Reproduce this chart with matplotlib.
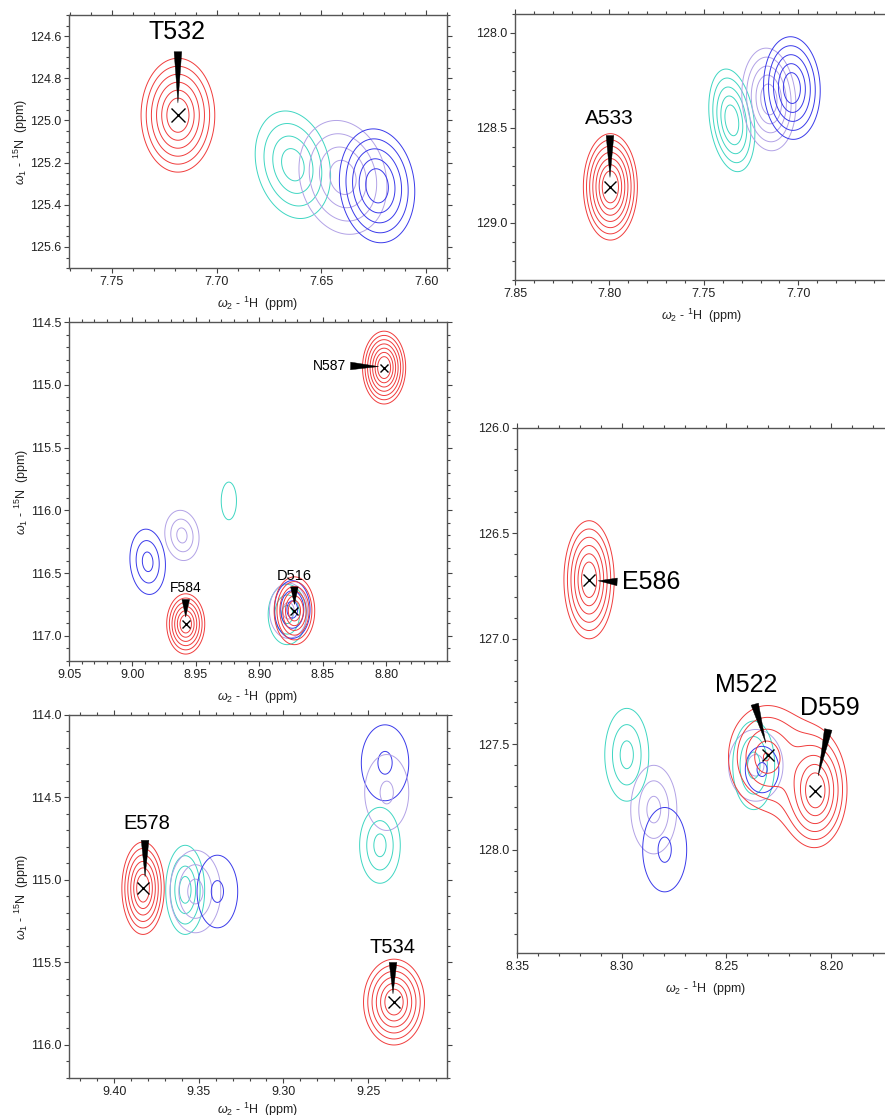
import numpy as np
import matplotlib
matplotlib.use('Agg')
import matplotlib.pyplot as plt
from matplotlib.ticker import MultipleLocator, FormatStrFormatter

plt.rcParams['font.family'] = ['Liberation Sans', 'DejaVu Sans']
plt.rcParams['mathtext.fontset'] = 'custom'
plt.rcParams['mathtext.rm'] = 'Liberation Sans'
plt.rcParams['mathtext.it'] = 'Liberation Sans:italic'

colors = {'red': '#f03c3c', 'cyan': '#3fd6c2', 'lilac': '#b2a2e6', 'blue': '#3a3aea'}

# peaks: (spectrum, 1H, 15N, half-width H, half-width N, tilt, number of contours)
t532_peaks = [
    ('red', 7.7185, 124.975, 0.0176, 0.27, 0.0, 6),
    ('cyan', 7.6636, 125.21, 0.018, 0.255, 0.2, 4),
    ('lilac', 7.6397, 125.27, 0.021, 0.27, 0.15, 4),
    ('blue', 7.6234, 125.31, 0.018, 0.27, 0.1, 5),
]
a533_peaks = [
    ('red', 7.7995, 128.81, 0.0143, 0.28, 0.0, 7),
    ('cyan', 7.7352, 128.46, 0.0122, 0.27, 0.25, 5),
    ('lilac', 7.7156, 128.35, 0.0143, 0.27, 0.1, 5),
    ('blue', 7.7034, 128.29, 0.015, 0.27, 0.05, 5),
]
mid_peaks = [
    ('red', 8.8016, 114.863, 0.017, 0.29, 0.0, 7),
    ('red', 8.958, 116.905, 0.015, 0.24, 0.0, 6),
    ('blue', 8.988, 116.41, 0.014, 0.26, 0.1, 3),
    ('lilac', 8.961, 116.20, 0.0135, 0.20, 0.1, 3),
    ('cyan', 8.924, 115.925, 0.006, 0.15, 0.0, 1),
    ('cyan', 8.878, 116.83, 0.015, 0.24, 0.0, 3),
    ('lilac', 8.877, 116.80, 0.015, 0.22, 0.0, 2),
    ('blue', 8.874, 116.79, 0.014, 0.23, 0.0, 3),
    ('red', 8.8723, 116.80, 0.016, 0.27, 0.0, 6),
]
low_peaks = [
    ('red', 9.3829, 115.05, 0.0125, 0.28, 0.0, 6),
    ('cyan', 9.358, 115.06, 0.0115, 0.27, 0.0, 4),
    ('lilac', 9.352, 115.07, 0.015, 0.25, 0.0, 3),
    ('blue', 9.339, 115.07, 0.012, 0.22, 0.0, 2),
    ('blue', 9.240, 114.29, 0.014, 0.23, 0.0, 2),
    ('lilac', 9.239, 114.47, 0.013, 0.23, 0.0, 2),
    ('cyan', 9.243, 114.79, 0.012, 0.23, 0.0, 3),
    ('red', 9.2347, 115.74, 0.018, 0.26, 0.0, 6),
]
tall_peaks = [
    ('red', 8.3156, 126.72, 0.012, 0.28, 0.0, 6),
    ('cyan', 8.2976, 127.55, 0.0105, 0.22, 0.0, 3),
    ('lilac', 8.2847, 127.81, 0.011, 0.21, 0.0, 3),
    ('blue', 8.2795, 128.00, 0.0105, 0.20, 0.0, 2),
    ('lilac', 8.2360, 127.60, 0.0130, 0.17, 0.0, 2),
    ('cyan', 8.2370, 127.60, 0.0100, 0.21, 0.0, 3),
    ('blue', 8.2330, 127.62, 0.0080, 0.11, 0.0, 2),
]
# M522 and D559 share one red contour set: (1H, 15N, half-width H, half-width N, top-level offset)
m522_d559_red = [
    (8.2310, 127.56, 0.0180, 0.24, 0.40),
    (8.2075, 127.72, 0.0145, 0.26, 0.0),
]

# labels: (text, text H, text N, wedge base H, base N, tip H, tip N, font size)
t532_labels = [('T532', 7.719, 124.58, 7.7185, 124.674, 7.7185, 124.917, 18)]
a533_labels = [('A533', 7.8003, 128.45, 7.7997, 128.54, 7.7997, 128.76, 15)]
mid_labels = [
    ('N587', 8.845, 114.85, 8.828, 114.85, 8.806, 114.855, 10),
    ('F584', 8.958, 116.62, 8.958, 116.71, 8.958, 116.85, 10),
    ('D516', 8.8723, 116.52, 8.8723, 116.61, 8.8723, 116.75, 10.5),
]
low_labels = [
    ('E578', 9.3805, 114.66, 9.3817, 114.76, 9.3817, 114.98, 14.5),
    ('T534', 9.2353, 115.41, 9.2353, 115.50, 9.2353, 115.69, 14.5),
]
tall_labels = [
    ('E586', 8.286, 126.73, 8.3022, 126.73, 8.3112, 126.725, 18),
    ('M522', 8.2405, 127.22, 8.2365, 127.31, 8.2312, 127.495, 18),
    ('D559', 8.2005, 127.33, 8.2014, 127.43, 8.2062, 127.65, 18),
]
# cross markers at assigned peaks: (1H, 15N, size)
t532_marks = [(7.7185, 124.975, 10)]
a533_marks = [(7.7995, 128.81, 9)]
mid_marks = [(8.8016, 114.863, 6), (8.958, 116.905, 6), (8.8723, 116.80, 6)]
low_marks = [(9.3829, 115.05, 8), (9.2347, 115.74, 8)]
tall_marks = [(8.3156, 126.72, 9), (8.2300, 127.55, 9), (8.2075, 127.72, 9)]

ring_r = np.linspace(1.0, 0.3, 6)


def peak_radius(X, Y, x0, y0, hx, hy, rho):
    u = (x0 - X) / hx
    v = (Y - y0) / hy
    q = (u * u - 2 * rho * u * v + v * v) / (1 - rho * rho)
    return np.sqrt(q)


def contour_levels(n):
    r = np.linspace(1.0, 0.3, n) if n > 1 else np.array([1.0])
    return np.sort(np.exp(-r))


def draw_panel(rect, xlim, ylim, xmaj, ymaj, ymin, peaks, labels, marks,
               ylabel=True, merged=None, tick_fs=9, xpad=5):
    ax = fig.add_axes(rect)
    gx = np.linspace(min(xlim), max(xlim), 500)
    gy = np.linspace(min(ylim), max(ylim), 500)
    X, Y = np.meshgrid(gx, gy)
    for col, x0, y0, hx, hy, rho, n in peaks:
        Z = np.exp(-peak_radius(X, Y, x0, y0, hx, hy, rho))
        ax.contour(X, Y, Z, levels=contour_levels(n), colors=colors[col], linewidths=0.7)
    if merged:
        p = 3.0
        Z = sum(np.exp(-a - (1 - a) * peak_radius(X, Y, x0, y0, hx, hy, 0.0)) ** p
                for x0, y0, hx, hy, a in merged) ** (1 / p)
        ax.contour(X, Y, Z, levels=np.sort(np.exp(-ring_r)), colors=colors['red'], linewidths=0.7)
    for x0, y0, ms in marks:
        ax.plot(x0, y0, 'x', color='k', ms=ms, mew=1.0)
    for txt, tx, ty, bx, by, px, py, fs in labels:
        ax.annotate('', xy=(px, py), xytext=(bx, by),
                    arrowprops=dict(arrowstyle='wedge,tail_width=0.55,shrink_factor=0.5',
                                    fc='k', ec='k', lw=0.3, shrinkA=0, shrinkB=0))
        ax.text(tx, ty, txt, fontsize=fs, ha='center', va='center', color='k')
    ax.set_xlim(xlim)
    ax.set_ylim(ylim)
    ax.xaxis.set_major_locator(MultipleLocator(xmaj))
    ax.xaxis.set_minor_locator(MultipleLocator(0.01))
    ax.yaxis.set_major_locator(MultipleLocator(ymaj))
    ax.yaxis.set_minor_locator(MultipleLocator(ymin))
    ax.xaxis.set_major_formatter(FormatStrFormatter('%.2f'))
    ax.yaxis.set_major_formatter(FormatStrFormatter('%.1f'))
    ax.tick_params(which='both', direction='out', top=True, right=True,
                   color='#444444', width=0.8, labelsize=tick_fs, labelcolor='#222222', pad=2)
    ax.tick_params(which='major', length=3.5)
    ax.tick_params(which='minor', length=2)
    for s in ax.spines.values():
        s.set_color('#555555')
        s.set_linewidth(1.0)
    ax.set_xlabel(r'$\omega_2$ - $^1$H  (ppm)', fontsize=9, labelpad=xpad, color='#222222')
    if ylabel:
        ax.set_ylabel(r'$\omega_1$ - $^{15}$N  (ppm)', fontsize=9, labelpad=0, color='#222222')
    return ax


fig = plt.figure(figsize=(8.85, 11.15), dpi=100)

draw_panel([0.078, 0.7596, 0.4271, 0.2269], (7.7705, 7.590), (125.7, 124.5), 0.05, 0.2, 0.05,
           t532_peaks, t532_labels, t532_marks)
draw_panel([0.5819, 0.7489, 0.4226, 0.2386], (7.85, 7.652), (129.3, 127.9), 0.05, 0.5, 0.1,
           a533_peaks, a533_labels, a533_marks, ylabel=False)
draw_panel([0.078, 0.4072, 0.4271, 0.3040], (9.05, 8.752), (117.2, 114.5), 0.05, 0.5, 0.1,
           mid_peaks, mid_labels, mid_marks)
draw_panel([0.078, 0.0332, 0.4271, 0.3256], (9.4266, 9.2034), (116.2, 114.0), 0.05, 0.5, 0.1,
           low_peaks, low_labels, low_marks, xpad=2)
draw_panel([0.5842, 0.1453, 0.4260, 0.4709], (8.35, 8.17), (128.49, 126.0), 0.05, 0.5, 0.1,
           tall_peaks, tall_labels, tall_marks, ylabel=False, merged=m522_d559_red)

fig.savefig('out.png', dpi=100)
